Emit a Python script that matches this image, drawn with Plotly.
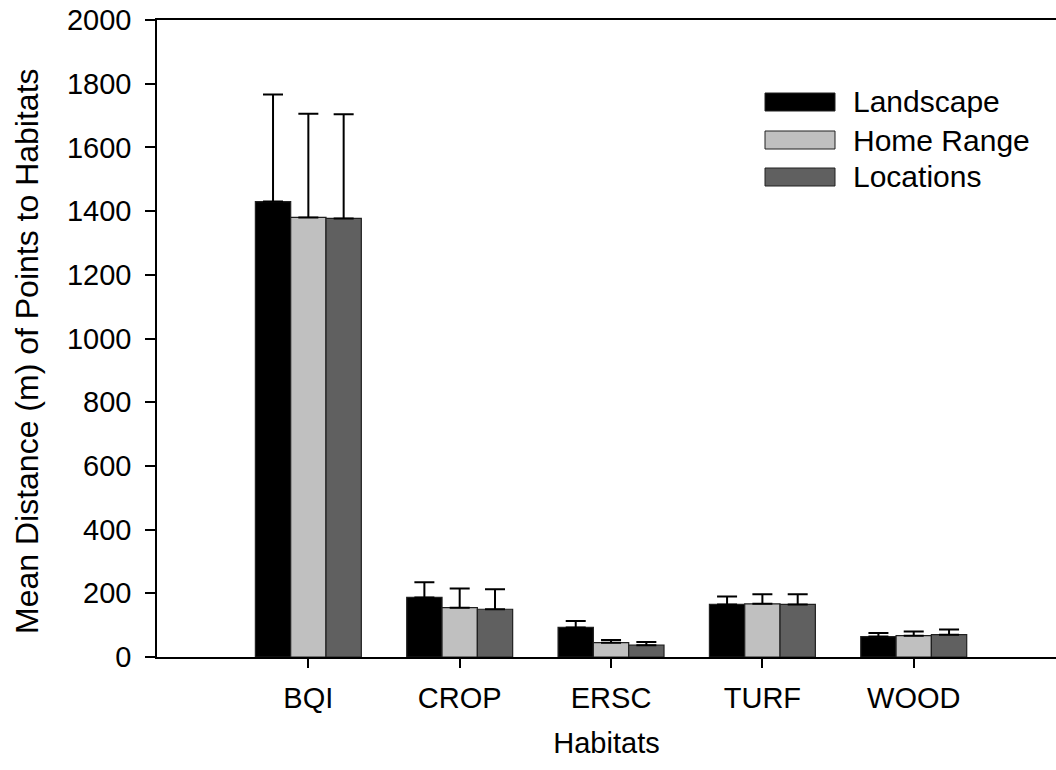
import plotly.graph_objects as go

habitats = ["BQI", "CROP", "ERSC", "TURF", "WOOD"]
series_names = ["Landscape", "Home Range", "Locations"]
landscape = [1430, 187, 93, 165, 64]
home_range = [1380, 155, 45, 167, 67]
locations = [1377, 150, 37, 165, 70]
landscape_err = [336, 48, 20, 25, 11]
home_range_err = [326, 60, 8, 30, 13]
locations_err = [327, 63, 10, 32, 16]
y_ticks = [0, 200, 400, 600, 800, 1000, 1200, 1400, 1600, 1800, 2000]

colors = ["#000000", "#c0c0c0", "#606060"]
values = [landscape, home_range, locations]
errors = [landscape_err, home_range_err, locations_err]

FONT = "Liberation Sans, Arial, sans-serif"
FS = 29

W, H = 1056, 770
ML, MR, MT, MB = 157, 0, 20, 113
PW = W - ML - MR
PH = H - MT - MB

fig = go.Figure()
for name, vals, errs, col in zip(series_names, values, errors, colors):
    fig.add_trace(go.Bar(
        x=habitats, y=vals, name=name,
        marker=dict(color=col, line=dict(color="#202020", width=1.2)),
        error_y=dict(type="data", array=errs, arrayminus=[0] * len(errs),
                     symmetric=False, color="black", thickness=2, width=10),
        showlegend=False,
    ))

# legend drawn as swatches + labels
legend_rows_px = [102, 140, 177]
for name, col, ypx in zip(series_names, colors, legend_rows_px):
    yy = (657 - ypx) / PH
    half = 9 / PH
    fig.add_shape(type="rect", xref="paper", yref="paper",
                  x0=(765 - 157) / PW, x1=(835 - 157) / PW,
                  y0=yy - half, y1=yy + half,
                  fillcolor=col, line=dict(color="#202020", width=1))
    fig.add_annotation(xref="paper", yref="paper", x=(851 - 157) / PW, y=yy,
                       text=name, showarrow=False, xanchor="left", yanchor="middle",
                       font=dict(family=FONT, size=30, color="black"))

# y-axis title
fig.add_annotation(xref="paper", yref="paper", x=0, y=(657 - 351) / PH,
                   xshift=27 - 157, xanchor="center", yanchor="middle",
                   text="Mean Distance (m) of Points to Habitats", textangle=-90,
                   showarrow=False, font=dict(family=FONT, size=32, color="black"))

fig.update_layout(
    width=W, height=H,
    margin=dict(l=ML, r=MR, t=MT, b=MB, autoexpand=False),
    plot_bgcolor="white", paper_bgcolor="white",
    barmode="group", bargap=0.3, bargroupgap=0,
    font=dict(family=FONT, size=FS, color="black"),
)
fig.update_xaxes(
    type="category", range=[-1, 4.94],
    showline=True, linecolor="black", linewidth=1.5, mirror=True,
    ticks="outside", ticklen=9, tickwidth=1.5, tickcolor="black",
    ticklabelstandoff=5, ticklabeloverflow="allow",
    showgrid=False, zeroline=False, automargin=False,
    title=dict(text="Habitats", standoff=20, font=dict(size=29)),
)
fig.update_yaxes(
    range=[0, 2000], tickvals=y_ticks,
    showline=True, linecolor="black", linewidth=1.5,
    ticks="outside", ticklen=10, tickwidth=1.5, tickcolor="black",
    ticklabelstandoff=8, ticklabeloverflow="allow",
    showgrid=False, zeroline=False, automargin=False,
)

fig.write_html("out.html", config={"displayModeBar": False},
               post_script="document.body.style.margin='0';document.body.style.overflow='hidden';")
